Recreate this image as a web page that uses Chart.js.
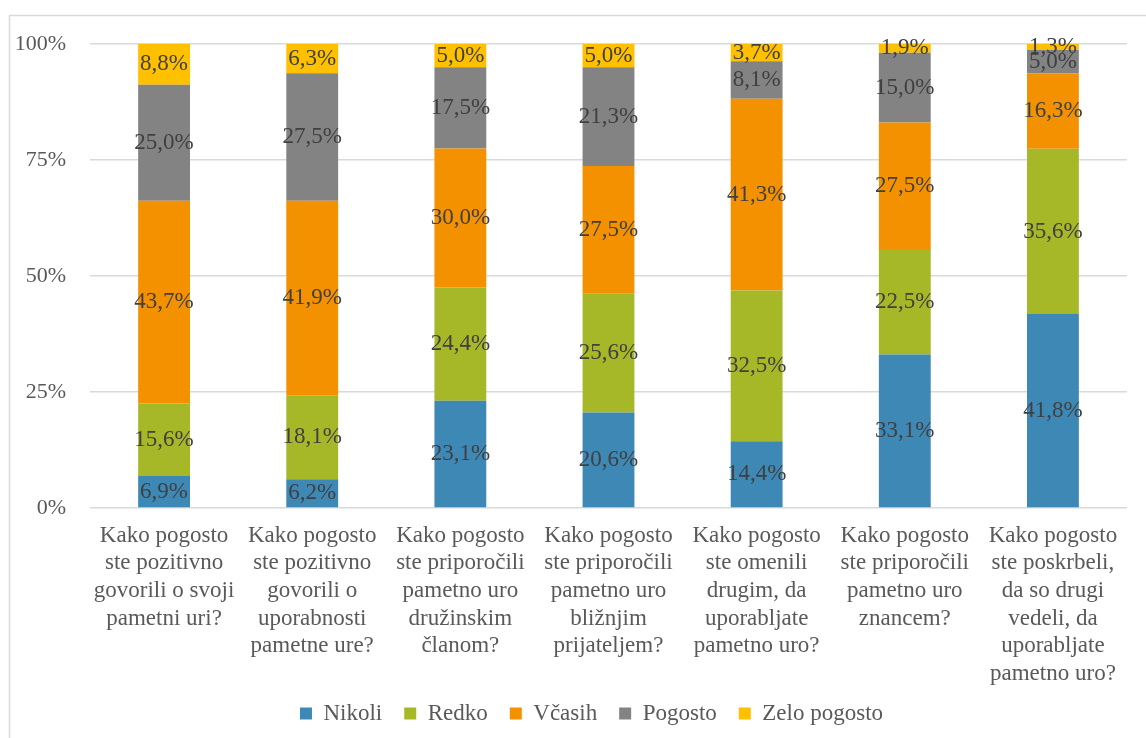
<!DOCTYPE html>
<html>
<head>
<meta charset="utf-8">
<script src="https://cdn.jsdelivr.net/npm/chart.js@4"></script>
<style>
  html, body { margin: 0; padding: 0; background: #fff; }
  #wrap { width: 1146px; height: 738px; }
</style>
</head>
<body>
<div id="wrap"><canvas id="chart" width="1146" height="738"></canvas></div>
<script>
// Question labels (one line per array entry)
const categories = [
    ['Kako pogosto', 'ste pozitivno', 'govorili o svoji', 'pametni uri?'],
    ['Kako pogosto', 'ste pozitivno', 'govorili o', 'uporabnosti', 'pametne ure?'],
    ['Kako pogosto', 'ste priporočili', 'pametno uro', 'družinskim', 'članom?'],
    ['Kako pogosto', 'ste priporočili', 'pametno uro', 'bližnjim', 'prijateljem?'],
    ['Kako pogosto', 'ste omenili', 'drugim, da', 'uporabljate', 'pametno uro?'],
    ['Kako pogosto', 'ste priporočili', 'pametno uro', 'znancem?'],
    ['Kako pogosto', 'ste poskrbeli,', 'da so drugi', 'vedeli, da', 'uporabljate', 'pametno uro?']
];

// Answer shares in percent
const nikoli = [6.9, 6.2, 23.1, 20.6, 14.4, 33.1, 41.8];
const redko = [15.6, 18.1, 24.4, 25.6, 32.5, 22.5, 35.6];
const vcasih = [43.7, 41.9, 30.0, 27.5, 41.3, 27.5, 16.3];
const pogosto = [25.0, 27.5, 17.5, 21.3, 8.1, 15.0, 5.0];
const zeloPogosto = [8.8, 6.3, 5.0, 5.0, 3.7, 1.9, 1.3];

const yTicks = [0, 25, 50, 75, 100];

const FONT = '"Liberation Serif", "Times New Roman", serif';
Chart.defaults.font.family = FONT;
Chart.defaults.font.size = 23;
Chart.defaults.color = '#595959';

// Light frame round the whole chart
const framePlugin = {
    id: 'frame',
    beforeDraw(chart) {
        const ctx = chart.ctx;
        ctx.save();
        ctx.strokeStyle = '#d9d9d9';
        ctx.lineWidth = 1.5;
        ctx.strokeRect(9.5, 15.5, chart.width + 20, chart.height + 20);
        ctx.restore();
    }
};

// Let the axis labels run past their boxes instead of being clipped
const looseLabels = {
    id: 'looseLabels',
    afterLayout(chart) {
        chart.scales.x.bottom = chart.height;
        chart.scales.y.left = 0;
    }
};

// Value labels in the middle of each segment
const segmentLabels = {
    id: 'segmentLabels',
    afterDatasetsDraw(chart) {
        const ctx = chart.ctx;
        ctx.save();
        ctx.font = '23px ' + FONT;
        ctx.fillStyle = '#404040';
        ctx.textAlign = 'center';
        ctx.textBaseline = 'middle';
        chart.data.datasets.forEach((ds, i) => {
            const meta = chart.getDatasetMeta(i);
            if (meta.hidden) return;
            meta.data.forEach((bar, j) => {
                const v = ds.data[j];
                const y = (bar.y + bar.base) / 2;
                ctx.fillText(v.toFixed(1).replace('.', ',') + '%', bar.x, y);
            });
        });
        ctx.restore();
    }
};

const ctx = document.getElementById('chart').getContext('2d');
new Chart(ctx, {
    type: 'bar',
    data: {
        labels: categories,
        datasets: [
            { label: 'Nikoli', data: nikoli, backgroundColor: '#3e88b6' },
            { label: 'Redko', data: redko, backgroundColor: '#a6b828' },
            { label: 'Včasih', data: vcasih, backgroundColor: '#f49100' },
            { label: 'Pogosto', data: pogosto, backgroundColor: '#838383' },
            { label: 'Zelo pogosto', data: zeloPogosto, backgroundColor: '#ffc000' }
        ]
    },
    options: {
        responsive: false,
        animation: false,
        datasets: {
            bar: {
                categoryPercentage: 1,
                barPercentage: 0.35,
                borderWidth: 0
            }
        },
        layout: {
            padding: { top: 44, right: 19, bottom: 3, left: 56 }
        },
        plugins: {
            legend: {
                position: 'bottom',
                labels: {
                    boxWidth: 12,
                    boxHeight: 12,
                    padding: 22,
                    color: '#595959',
                    font: { size: 23 }
                }
            },
            tooltip: { enabled: false }
        },
        scales: {
            x: {
                stacked: true,
                grid: { display: false, drawTicks: false },
                border: { display: false },
                ticks: {
                    padding: 14,
                    maxRotation: 0,
                    autoSkip: false,
                    color: '#595959',
                    font: { size: 23, lineHeight: 1.2 }
                },
                afterFit(scale) { scale.height = 172; }
            },
            y: {
                stacked: true,
                min: 0,
                max: 100,
                grid: { color: '#d9d9d9', lineWidth: 1.5, drawTicks: false },
                border: { display: false },
                afterBuildTicks(scale) {
                    scale.ticks = yTicks.map(v => ({ value: v }));
                },
                ticks: {
                    padding: 24,
                    color: '#595959',
                    font: { size: 22 },
                    callback: v => v + '%'
                },
                afterFit(scale) { scale.width = 34; }
            }
        }
    },
    plugins: [framePlugin, looseLabels, segmentLabels]
});
</script>
</body>
</html>
